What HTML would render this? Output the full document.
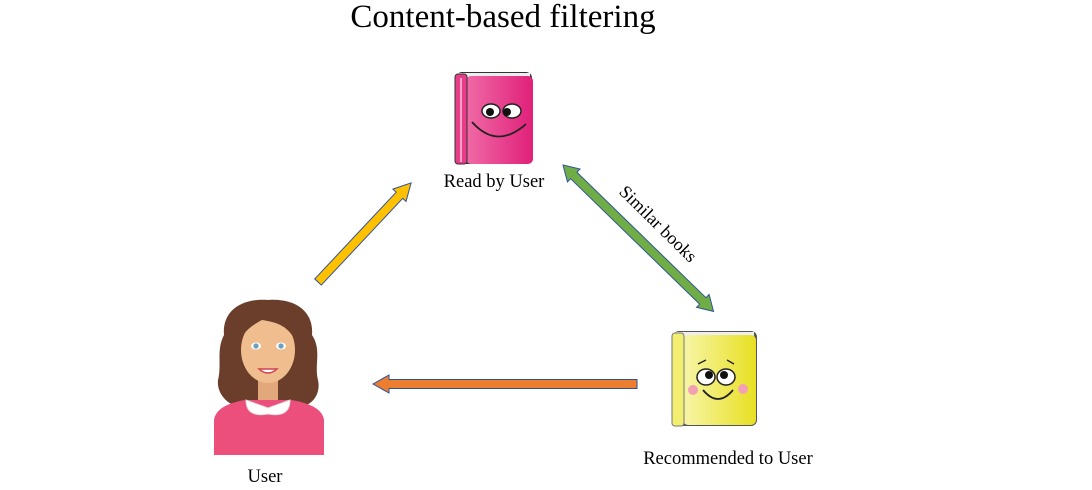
<!DOCTYPE html>
<html><head><meta charset="utf-8"><style>
body{margin:0;background:#fff;width:1092px;height:490px;overflow:hidden}
svg{display:block}
text{font-family:"Liberation Serif",serif;fill:#000}
</style></head><body>
<svg width="1092" height="490" viewBox="0 0 1092 490">
<defs>
<linearGradient id="pk" x1="0" x2="1"><stop offset="0" stop-color="#f06aa6"/><stop offset="1" stop-color="#e0207a"/></linearGradient>
<linearGradient id="yl" x1="0" x2="1"><stop offset="0" stop-color="#f7f5a8"/><stop offset="1" stop-color="#e8e022"/></linearGradient>
</defs>
<text x="503" y="27" font-size="33" text-anchor="middle">Content-based filtering</text>

<!-- pink book -->
<g>
<rect x="456" y="72" width="76" height="92" rx="6" fill="#333"/>
<rect x="458" y="73" width="72" height="6" fill="#eee"/>
<rect x="466" y="76" width="67" height="88" rx="5" fill="url(#pk)"/>
<rect x="455" y="74" width="12" height="90" rx="3" fill="#e83d8a" stroke="#333" stroke-width="1"/>
<line x1="461" y1="78" x2="461" y2="162" stroke="#f7a0c8" stroke-width="2"/>
<ellipse cx="491" cy="111" rx="9" ry="7" fill="#fff" stroke="#222" stroke-width="1.5"/>
<ellipse cx="512" cy="111" rx="9" ry="7" fill="#fff" stroke="#222" stroke-width="1.5"/>
<circle cx="490" cy="112" r="4" fill="#111"/><circle cx="507" cy="112" r="4" fill="#111"/>
<path d="M472 122 Q497 150 526 124" fill="none" stroke="#222" stroke-width="1.8"/>
</g>
<text x="494" y="187" font-size="18.5" text-anchor="middle">Read by User</text>

<!-- yellow book -->
<g>
<rect x="673" y="331" width="84" height="95" rx="6" fill="#555"/>
<rect x="676" y="332" width="78" height="5" fill="#eee"/>
<rect x="683" y="335" width="73" height="90" rx="5" fill="url(#yl)"/>
<rect x="672" y="333" width="12" height="93" rx="3" fill="#f2ee70" stroke="#777" stroke-width="1"/>
<ellipse cx="706" cy="377" rx="9" ry="8" fill="#fff" stroke="#222" stroke-width="1.5"/>
<ellipse cx="726" cy="377" rx="9" ry="8" fill="#fff" stroke="#222" stroke-width="1.5"/>
<circle cx="709" cy="375" r="4" fill="#111"/><circle cx="724" cy="375" r="4" fill="#111"/>
<path d="M698 364 L706 360 M734 364 L727 360" stroke="#222" stroke-width="1.3"/>
<circle cx="693" cy="390" r="5" fill="#f4a0b4"/><circle cx="743" cy="389" r="5" fill="#f4a0b4"/>
<path d="M703 390 Q718 408 733 390" fill="none" stroke="#222" stroke-width="1.8"/>
</g>
<text x="728" y="464" font-size="18.5" text-anchor="middle">Recommended to User</text>

<!-- user -->
<g>
<path d="M268 300 C240 298 222 312 224 335 C216 350 222 365 218 380 C216 398 236 412 250 405 L290 405 C306 412 322 398 318 380 C314 365 322 350 312 335 C314 312 296 298 268 300Z" fill="#6b3e2c"/>
<rect x="258" y="375" width="20" height="30" fill="#e2a87c"/>
<ellipse cx="268" cy="350" rx="27" ry="33" fill="#f0bd8e"/>
<path d="M240 340 C240 315 255 312 268 312 C285 312 298 322 297 345 C290 325 275 322 262 320 C252 325 244 332 240 340Z" fill="#6b3e2c"/>
<ellipse cx="256" cy="346" rx="5" ry="3.5" fill="#fff"/><circle cx="256" cy="346" r="2.6" fill="#6aa0c0"/>
<ellipse cx="281" cy="346" rx="5" ry="3.5" fill="#fff"/><circle cx="281" cy="346" r="2.6" fill="#6aa0c0"/>
<path d="M259 369 Q268 377 277 369 Z" fill="#fff" stroke="#d04050" stroke-width="1.5"/>
<path d="M214 455 L214 420 Q216 405 245 400 L291 400 Q322 405 324 420 L324 455Z" fill="#ec4f7b"/>
<path d="M246 400 Q246 418 268 414 Q290 418 290 400 L268 408Z" fill="#fff" stroke="#ddd"/>
</g>
<text x="265" y="482" font-size="18.5" text-anchor="middle">User</text>

<!-- yellow arrow -->
<g transform="translate(318,282) rotate(-46.8)">
<polygon points="0,-4.5 119,-4.5 119,-9 136,0 119,9 119,4.5 0,4.5" fill="#ffc000" stroke="#2f5597" stroke-width="1"/>
</g>
<!-- green double arrow -->
<g transform="translate(563,165) rotate(44.2)">
<polygon points="0,0 15,-9 15,-4.5 195,-4.5 195,-9 210,0 195,9 195,4.5 15,4.5 15,9" fill="#70ad47" stroke="#2f5597" stroke-width="1"/>
</g>
<!-- orange arrow -->
<g transform="translate(637,384) rotate(180)">
<polygon points="0,-4.5 248,-4.5 248,-9 264,0 248,9 248,4.5 0,4.5" fill="#ed7d31" stroke="#2f5597" stroke-width="1"/>
</g>
<text x="0" y="0" font-size="18" text-anchor="middle" transform="translate(654,228) rotate(44.5)">Similar books</text>
</svg>
</body></html>
